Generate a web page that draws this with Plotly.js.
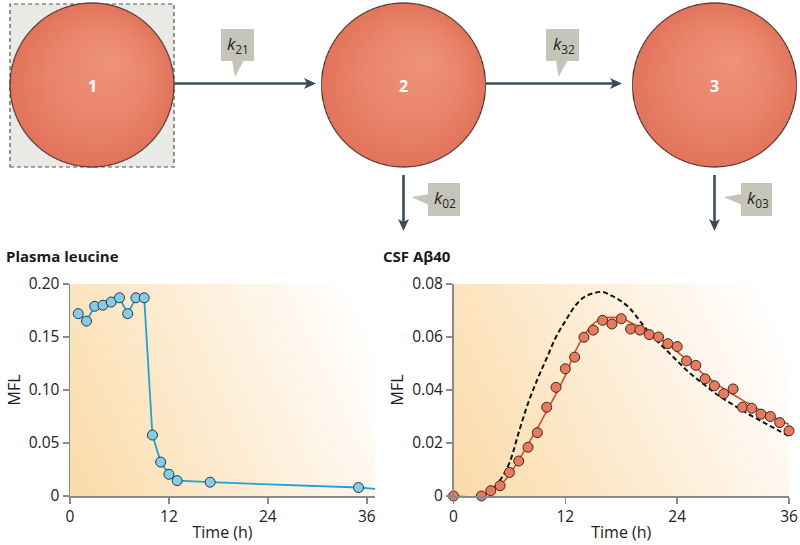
<!DOCTYPE html>
<html><head><meta charset="utf-8">
<script src="https://cdn.plot.ly/plotly-3.0.1.min.js"></script>
<style>html,body{margin:0;padding:0;background:#fff}#chart{width:800px;height:545px}</style>
</head><body><div id="chart"></div>
<script>
// ---- data ----
var leuT = [1,2,3,4,5,6,7,8,9,10,11,12,13,17,35];
var leuV = [0.172,0.165,0.179,0.180,0.183,0.187,0.172,0.187,0.187,0.0575,0.032,0.0205,0.0145,0.013,0.008];
var leuTailT = [37];
var leuTailV = [0.0068];

var abT = [0,3,4,5,6,7,8,9,10,11,12,13,14,15,16,17,18,19,20,21,22,23,24,25,26,27,28,29,30,31,32,33,34,35,36];
var abV = [0,0,0.002,0.0039,0.0089,0.0132,0.0184,0.0239,0.0335,0.041,0.048,0.0524,0.0599,0.0626,0.0663,0.0649,0.0669,0.063,0.0626,0.0609,0.060,0.0575,0.0564,0.051,0.0493,0.0442,0.0416,0.0386,0.0404,0.0335,0.0331,0.0309,0.030,0.0277,0.0246];

var fitT = [0,3,4,5,6,7,8,9,10,11,12,13,14,15,16,17,18,19,20,21,22,23,24,25,26,27,28,29,30,31,32,33,34,35,36];
var fitV = [0,0,0.0015,0.004,0.008,0.0135,0.0195,0.0255,0.032,0.0385,0.0455,0.054,0.0605,0.065,0.067,0.0674,0.067,0.0655,0.0638,0.0619,0.0597,0.0574,0.0545,0.0515,0.0485,0.0455,0.043,0.0405,0.0383,0.0362,0.0342,0.0322,0.0304,0.0287,0.027];

var simT = [3,4,5,6,7,8,9,10,11,12,13,14,15,16,17,18,19,20,21,22,23,24,25,26,27,28,29,30,31,32,33,34,35,36];
var simV = [0,0.002,0.006,0.0125,0.024,0.035,0.044,0.052,0.060,0.066,0.0715,0.075,0.0765,0.077,0.0755,0.0735,0.0705,0.066,0.0618,0.058,0.0545,0.051,0.0475,0.0445,0.0418,0.039,0.0366,0.0344,0.0323,0.0302,0.0283,0.0264,0.0245,0.0225];

var xTicks = [0,12,24,36];
var xTickText = ['0','12','24','36'];
var leuYTicks = [0,0.05,0.10,0.15,0.20];
var leuYText = ['0','0.05','0.10','0.15','0.20'];
var abYTicks = [0,0.02,0.04,0.06,0.08];
var abYText = ['0','0.02','0.04','0.06','0.08'];

var compLabels = ['1','2','3'];
var rateLabels = ['<i>k</i><sub>21</sub>','<i>k</i><sub>32</sub>','<i>k</i><sub>02</sub>','<i>k</i><sub>03</sub>'];
var panelTitles = ['Plasma leucine','CSF A\u03b240'];

// ---- helpers (diagram pixel -> paper) ----
var W = 800, H = 545;
function fx(x){return x/W;}
function fy(y){return 1 - y/H;}
function path(pts){return pts.map(function(p,i){return (i?'L':'M')+fx(p[0]).toFixed(5)+','+fy(p[1]).toFixed(5);}).join(' ')+' Z';}

function gradURL(){
  var c = document.createElement('canvas'); c.width = 300; c.height = 200;
  var g = c.getContext('2d');
  var lg = g.createLinearGradient(0, 200, 300, 60);
  lg.addColorStop(0, '#fbdba8');
  lg.addColorStop(0.45, '#fdebcf');
  lg.addColorStop(0.8, '#fff7ee');
  lg.addColorStop(1, '#ffffff');
  g.fillStyle = lg; g.fillRect(0,0,300,200);
  return c.toDataURL();
}
var bg = gradURL();

var R = 82, PAD = 2;
function circleURL(){
  var s = 3, S = (2*R + 2*PAD)*s;
  var c = document.createElement('canvas'); c.width = S; c.height = S;
  var g = c.getContext('2d');
  var m = S/2;
  var rg = g.createRadialGradient(m + 20*s, m - 26*s, 0, m, m, R*s*1.02);
  rg.addColorStop(0, '#ee9379');
  rg.addColorStop(0.55, '#ea866c');
  rg.addColorStop(1, '#e2745b');
  g.beginPath(); g.arc(m, m, R*s, 0, Math.PI*2);
  g.fillStyle = rg; g.fill();
  g.lineWidth = 1.1*s; g.strokeStyle = '#4a3530'; g.stroke();
  return c.toDataURL();
}
var circ = circleURL();

var shapes = [];
var annotations = [];
var images = [];
var arrowCol = '#3b4c59';
var boxCol = '#c4c5b8';

// dashed box behind compartment 1
shapes.push({type:'rect', xref:'paper', yref:'paper', x0:fx(10), x1:fx(174), y0:fy(167), y1:fy(4),
  fillcolor:'#e9e9e5', line:{color:'#555', width:1.2, dash:'4px,3px'}, layer:'below'});

// compartments
var cx = [92, 403.5, 714.5], cy = 85;
cx.forEach(function(x, i){
  images.push({source:circ, xref:'paper', yref:'paper', x:fx(x-R-PAD), y:fy(cy-R-PAD), sizex:(2*R+2*PAD)/W, sizey:(2*R+2*PAD)/H,
    sizing:'stretch', xanchor:'left', yanchor:'top', layer:'above'});
  annotations.push({xref:'paper', yref:'paper', x:fx(x), y:fy(cy+1), xanchor:'center', yanchor:'middle', text:'<b>'+compLabels[i]+'</b>', showarrow:false,
    font:{family:'Open Sans', size:16, color:'#ffffff'}});
});

// arrows
function hArrow(x0, x1, y){
  shapes.push({type:'line', xref:'paper', yref:'paper', x0:fx(x0), x1:fx(x1-6), y0:fy(y), y1:fy(y), line:{color:arrowCol, width:2.6}, layer:'above'});
  shapes.push({type:'path', xref:'paper', yref:'paper', path:path([[x1-12,y-5.5],[x1,y],[x1-12,y+5.5],[x1-9,y]]), fillcolor:arrowCol, line:{width:0}, layer:'above'});
}
function vArrow(x, y0, y1){
  shapes.push({type:'line', xref:'paper', yref:'paper', x0:fx(x), x1:fx(x), y0:fy(y0), y1:fy(y1-6), line:{color:arrowCol, width:2.6}, layer:'above'});
  shapes.push({type:'path', xref:'paper', yref:'paper', path:path([[x-5.5,y1-12],[x,y1],[x+5.5,y1-12],[x,y1-9]]), fillcolor:arrowCol, line:{width:0}, layer:'above'});
}
hArrow(175, 316, 83.5);
hArrow(486, 622, 83.5);
vArrow(403.5, 175, 231);
vArrow(714.5, 175, 231);

// rate-constant tags
var tags = [
  {x0:221, x1:254, y0:29, y1:61, ptr:[[232,60],[244,60],[235,77]]},
  {x0:546, x1:579, y0:29, y1:61, ptr:[[556,60],[568,60],[558.5,77]]},
  {x0:428, x1:460, y0:183, y1:216, ptr:[[429,194],[411.5,197],[429,205]]},
  {x0:741, x1:772, y0:183, y1:216, ptr:[[742,194],[723.5,197],[742,205]]}
];
tags.forEach(function(t, i){
  shapes.push({type:'rect', xref:'paper', yref:'paper', x0:fx(t.x0), x1:fx(t.x1), y0:fy(t.y1), y1:fy(t.y0), fillcolor:boxCol, line:{width:0}, layer:'above'});
  shapes.push({type:'path', xref:'paper', yref:'paper', path:path(t.ptr), fillcolor:boxCol, line:{width:0}, layer:'above'});
  annotations.push({xref:'paper', yref:'paper', x:fx((t.x0+t.x1)/2 + 1), y:fy((t.y0+t.y1)/2 - 1), xanchor:'center', yanchor:'middle', text:rateLabels[i], showarrow:false,
    font:{family:'Open Sans', size:17, color:'#222'}});
});

// panel titles
annotations.push({xref:'paper', yref:'paper', x:fx(4), y:fy(256), xanchor:'left', yanchor:'middle', text:'<b>'+panelTitles[0]+'</b>', showarrow:false, font:{family:'Open Sans', size:15, color:'#1a1a1a'}});
annotations.push({xref:'paper', yref:'paper', x:fx(381), y:fy(256), xanchor:'left', yanchor:'middle', text:'<b>'+panelTitles[1]+'</b>', showarrow:false, font:{family:'Open Sans', size:15, color:'#1a1a1a'}});

var tickFont = {family:'Open Sans', size:15.5, color:'#222'};
var titleFont = {family:'Open Sans', size:16, color:'#222'};
var axCommon = {showgrid:false, zeroline:false, showline:true, linecolor:'#8a8a8a', linewidth:1.5, ticks:'outside', ticklen:6, tickwidth:1.5, tickcolor:'#8a8a8a', tickfont:tickFont, tickmode:'array'};

var traces = [
  {x:leuT.concat(leuTailT), y:leuV.concat(leuTailV), mode:'lines', line:{color:'#1fa2d4', width:1.8}, xaxis:'x', yaxis:'y', hoverinfo:'skip'},
  {x:leuT, y:leuV, mode:'markers', marker:{size:10, color:'#86cbe8', line:{color:'#1f3a4a', width:1}}, xaxis:'x', yaxis:'y', cliponaxis:false},
  {x:simT, y:simV, mode:'lines', line:{color:'#111', width:2, dash:'5px,3px', shape:'spline'}, xaxis:'x2', yaxis:'y2'},
  {x:fitT, y:fitV, mode:'lines', line:{color:'#e0472d', width:1.6, shape:'spline'}, xaxis:'x2', yaxis:'y2'},
  {x:abT, y:abV, mode:'markers', marker:{size:10, color:'#e97a5e', line:{color:'#3a2822', width:1}}, xaxis:'x2', yaxis:'y2', cliponaxis:false}
];

images.push({source:bg, xref:'x domain', yref:'y domain', x:0, y:1, sizex:1, sizey:1, sizing:'stretch', layer:'below', xanchor:'left', yanchor:'top'});
images.push({source:bg, xref:'x2 domain', yref:'y2 domain', x:0, y:1, sizex:1, sizey:1, sizing:'stretch', layer:'below', xanchor:'left', yanchor:'top'});

var layout = {
  width:800, height:545, margin:{l:0,r:0,t:0,b:0}, showlegend:false,
  paper_bgcolor:'#ffffff', plot_bgcolor:'rgba(0,0,0,0)',
  xaxis: Object.assign({}, axCommon, {domain:[fx(70), fx(375)], range:[0,37], tickvals:xTicks, ticktext:xTickText,
    title:{text:'Time (h)', font:titleFont, standoff:0}, anchor:'y'}),
  yaxis: Object.assign({}, axCommon, {domain:[fy(496), fy(284)], range:[0,0.2], tickvals:leuYTicks, ticktext:leuYText,
    title:{text:'MFL', font:titleFont, standoff:4}, anchor:'x'}),
  xaxis2: Object.assign({}, axCommon, {domain:[fx(453.5), fx(789)], range:[0,36], tickvals:xTicks, ticktext:xTickText,
    title:{text:'Time (h)', font:titleFont, standoff:0}, anchor:'y2'}),
  yaxis2: Object.assign({}, axCommon, {domain:[fy(496), fy(284)], range:[0,0.08], tickvals:abYTicks, ticktext:abYText,
    title:{text:'MFL', font:titleFont, standoff:4}, anchor:'x2'}),
  images:images, shapes:shapes, annotations:annotations
};

Plotly.newPlot('chart', traces, layout, {displayModeBar:false, staticPlot:true});
</script></body></html>
